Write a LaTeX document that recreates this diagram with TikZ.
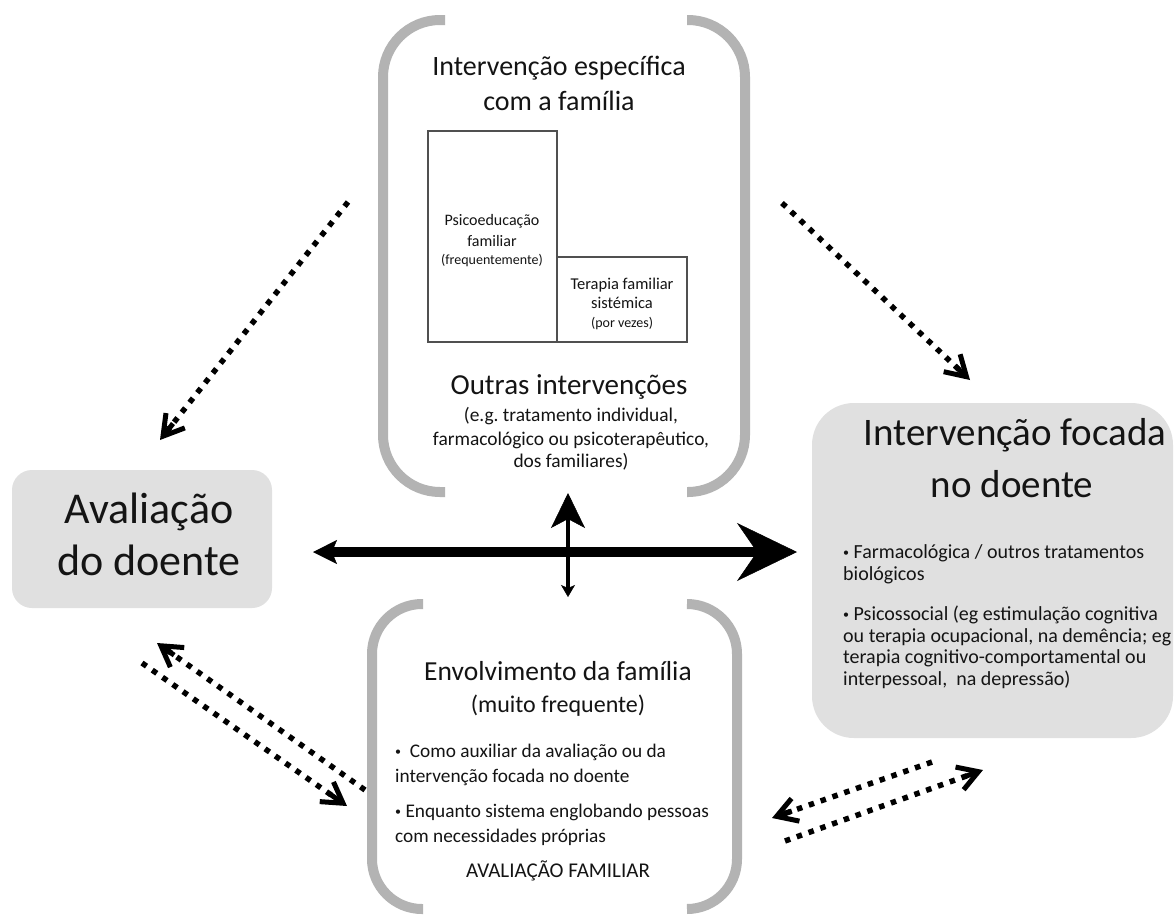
\documentclass[tikz,border=0pt]{standalone}
\usepackage{fontspec}
\setmainfont{Carlito}
\usetikzlibrary{arrows.meta,calc}
\definecolor{brk}{HTML}{B3B3B3}
\definecolor{boxfill}{HTML}{E0E0E0}
\definecolor{rectcol}{HTML}{505050}
\definecolor{txtcol}{HTML}{141414}
\newcommand\myfs[1]{\fontsize{#1}{#1}\selectfont}
\newcommand\mybul{{\fontsize{12}{12}\selectfont\raisebox{1.6pt}{•}}}
\begin{document}
\begin{tikzpicture}[x=1pt,y=-1pt,
  txt/.style={inner sep=0pt, anchor=base, text=txtcol},
  ltxt/.style={txt, anchor=base west},
  graybox/.style={fill=boxfill, draw=none, inner sep=0pt},
  innerbox/.style={draw=rectcol, line width=2.5pt, inner sep=0pt},
  bracket/.style={draw=brk, line width=10pt},
  dotline/.style={line width=5.5pt, dash pattern=on 5.5pt off 7pt},
  barbhead/.style={line width=5pt, -{Straight Barb[length=20pt,width=24pt]}},
  bigarrow/.style={line width=10pt, {Stealth[length=24pt,width=24pt,inset=5pt,line width=0.5pt]}-{Stealth[length=60pt,width=58pt,inset=20pt,line width=0.5pt]}},
  vertarrow/.style={line width=4pt, {Stealth[length=12pt,width=14pt,inset=3pt,line width=0.5pt]}-{Stealth[length=35pt,width=34pt,inset=9pt,line width=0.5pt]}}
]
\useasboundingbox (0,0) rectangle (1176,919);
\fill[white] (0,0) rectangle (1176,919);

% ---- grey boxes ----
\node[graybox, minimum width=260pt, minimum height=138pt, rounded corners=20pt] (aval) at (142,539) {};
\node[graybox, minimum width=361pt, minimum height=335pt, rounded corners=42pt] (focus) at (992.5,570.5) {};

% ---- brackets of the top group ----
\draw[bracket, rounded corners=57pt] (445,20) -- (383,20) -- (383,492) -- (445,492);
\draw[bracket, rounded corners=57pt] (687,20) -- (745,20) -- (745,492) -- (687,492);
% ---- brackets of the bottom group ----
\draw[bracket, rounded corners=50pt] (423,604) -- (372,604) -- (372,909) -- (423,909);
\draw[bracket, rounded corners=50pt] (687,604) -- (737,604) -- (737,909) -- (687,909);

% ---- inner rectangles ----
\node[innerbox, minimum width=129pt, minimum height=211pt] (psico) at (492.5,236.5) {};
\node[innerbox, minimum width=130pt, minimum height=85pt] (terapia) at (622,299.5) {};

% ---- texts: top group ----
\node[txt, font=\myfs{28}] (t1) at (559,75) {Intervenção específica};
\node[txt, font=\myfs{28}] (t2) at (559,110) {com a família};
\node[txt, font=\myfs{16}] (p1) at (492,225) {Psicoeducação};
\node[txt, font=\myfs{16}] (p2) at (492,246) {familiar};
\node[txt, font=\myfs{14}] (p3) at (492,264) {(frequentemente)};
\node[txt, font=\myfs{16.5}] (q1) at (622,289) {Terapia familiar};
\node[txt, font=\myfs{16.5}] (q2) at (622,308) {sistémica};
\node[txt, font=\myfs{14}] (q3) at (622,327) {(por vezes)};
\node[txt, font=\myfs{29}] (o1) at (569,394) {Outras intervenções};
\node[txt, font=\myfs{19.4}] (o2) at (571,421) {(e.g.\ tratamento individual,};
\node[txt, font=\myfs{19.4}] (o3) at (571,445) {farmacológico ou psicoterapêutico,};
\node[txt, font=\myfs{19.4}] (o4) at (571,467) {dos familiares)};

% ---- texts: left box ----
\node[txt, font=\myfs{44}] (a1) at (149,523) {Avaliação};
\node[txt, font=\myfs{44}] (a2) at (149,575) {do doente};

% ---- texts: right box ----
\node[txt, font=\myfs{39}] (f1) at (1015,445) {Intervenção focada};
\node[txt, font=\myfs{39}] (f2) at (1012,497) {no doente};
\node[ltxt, font=\myfs{20}] (r1) at (843,558) {\mybul\ Farmacológica / outros tratamentos};
\node[ltxt, font=\myfs{20}] (r2) at (843,580) {biológicos};
\node[ltxt, font=\myfs{20}] (r3) at (843,620) {\mybul\ Psicossocial (eg estimulação cognitiva};
\node[ltxt, font=\myfs{20}] (r4) at (843,642) {ou terapia ocupacional, na demência; eg};
\node[ltxt, font=\myfs{20}] (r5) at (843,663) {terapia cognitivo-comportamental ou};
\node[ltxt, font=\myfs{20}] (r6) at (843,685) {interpessoal,~ na depressão)};

% ---- texts: bottom group ----
\node[txt, font=\myfs{27.5}] (e1) at (558,680) {Envolvimento da família};
\node[txt, font=\myfs{24}] (e2) at (558,712) {(muito frequente)};
\node[ltxt, font=\myfs{19.3}] (b1) at (395,757) {\mybul~ Como auxiliar da avaliação ou da};
\node[ltxt, font=\myfs{19.3}] (b2) at (395,782) {intervenção focada no doente};
\node[ltxt, font=\myfs{19.3}] (b3) at (395,817) {\mybul\ Enquanto sistema englobando pessoas};
\node[ltxt, font=\myfs{19.3}] (b4) at (395,842) {com necessidades próprias};
\node[txt, font=\myfs{21}] (e3) at (558,877) {AVALIAÇÃO FAMILIAR};

% ---- arrow end points ----
\coordinate (hl) at (313,552);
\coordinate (hr) at (797,552);
\coordinate (vb) at (568,597);
\coordinate (vt) at (568,493);
\coordinate (tla) at (348,202);
\coordinate (tlb) at (160,440);
\coordinate (tra) at (782,203);
\coordinate (trb) at (970,380);
\coordinate (blua) at (365,790);
\coordinate (blub) at (157,643);
\coordinate (blla) at (142,663);
\coordinate (bllb) at (347,806);
\coordinate (brua) at (932,762);
\coordinate (brub) at (772,818);
\coordinate (brla) at (785,841);
\coordinate (brlb) at (983,770);

% ---- arrows ----
\draw[bigarrow] (hl) -- (hr);
\draw[vertarrow] (vb) -- (vt);
\foreach \a/\b in {tla/tlb, tra/trb, blua/blub, blla/bllb, brua/brub, brla/brlb}{
  \draw[dotline] (\a) -- ($(\b)!12pt!(\a)$);
  \draw[barbhead] ($(\b)!21pt!(\a)$) -- (\b);
}
\end{tikzpicture}
\end{document}
